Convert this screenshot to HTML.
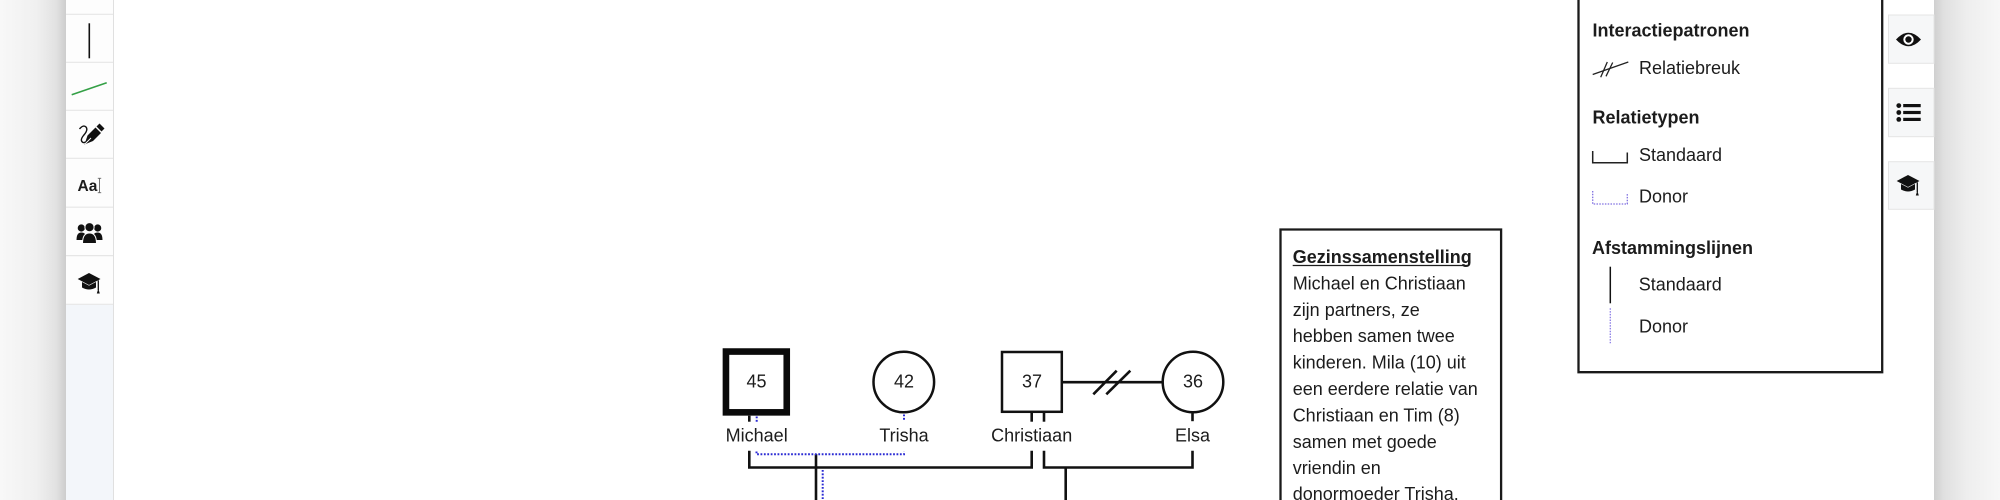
<!DOCTYPE html>
<html>
<head>
<meta charset="utf-8">
<style>
  html, body { margin: 0; padding: 0; width: 2000px; height: 500px; overflow: hidden; background: #ffffff; }
  svg { display: block; overflow: hidden; }
  text { font-family: "Liberation Sans", "DejaVu Sans", sans-serif; fill: #1c1c1c; }
</style>
</head>
<body>
<svg width="2000" height="500" viewBox="0 0 2000 500" xmlns="http://www.w3.org/2000/svg">
  <defs>
    <linearGradient id="shL" x1="0" y1="0" x2="1" y2="0">
      <stop offset="0" stop-color="#f8f8f8"/>
      <stop offset="0.55" stop-color="#f0f0f0"/>
      <stop offset="0.85" stop-color="#e2e2e2"/>
      <stop offset="1" stop-color="#cdcdcd"/>
    </linearGradient>
    <linearGradient id="shR" x1="0" y1="0" x2="1" y2="0">
      <stop offset="0" stop-color="#cfcfcf"/>
      <stop offset="0.15" stop-color="#e0e0e0"/>
      <stop offset="0.5" stop-color="#eeeeee"/>
      <stop offset="1" stop-color="#f7f7f7"/>
    </linearGradient>
  </defs>

  <!-- page background / shadows -->
  <rect x="0" y="0" width="2000" height="500" fill="#ffffff"/>
  <rect x="0" y="0" width="66" height="500" fill="url(#shL)"/>
  <rect x="1934" y="0" width="66" height="500" fill="url(#shR)"/>

  <!-- left toolbar -->
  <rect x="66" y="0" width="47.5" height="500" fill="#fdfdfd"/>
  <rect x="66" y="305" width="47.5" height="195" fill="#f3f6fa"/>
  <line x1="113.5" y1="0" x2="113.5" y2="500" stroke="#e0e0e0" stroke-width="1"/>
  <g stroke="#e6e6e6" stroke-width="1.2">
    <line x1="66" y1="14.3" x2="113" y2="14.3"/>
    <line x1="66" y1="62.3" x2="113" y2="62.3"/>
    <line x1="66" y1="110.3" x2="113" y2="110.3"/>
    <line x1="66" y1="158.3" x2="113" y2="158.3"/>
    <line x1="66" y1="207.2" x2="113" y2="207.2"/>
    <line x1="66" y1="255.6" x2="113" y2="255.6"/>
    <line x1="66" y1="304.3" x2="113" y2="304.3"/>
  </g>
  <!-- vertical line tool -->
  <line x1="89.3" y1="23.3" x2="89.3" y2="58.3" stroke="#111" stroke-width="1.6"/>
  <!-- green line tool -->
  <line x1="71.7" y1="94.7" x2="106.7" y2="82.7" stroke="#34a046" stroke-width="1.6"/>
  <!-- pen icon -->
  <g>
    <path d="M79.5 129 Q83 124.5 86 127 Q88.5 130 83.5 135.5 Q79.5 140.5 83 142.5 Q85 143 87 141" fill="none" stroke="#111" stroke-width="1.4"/>
    <polygon points="84.5,144.5 87.5,135.5 95.5,127.5 101,133 93,141" fill="#111"/>
    <polygon points="96.5,126.5 99.5,123.5 104.5,128.5 101.5,131.5" fill="#111"/>
    <line x1="85" y1="144" x2="91" y2="138" stroke="#fff" stroke-width="0.9"/>
  </g>
  <!-- Aa text tool -->
  <text x="77.5" y="191" font-size="15.5" font-weight="bold" fill="#222">Aa</text>
  <g stroke="#666" stroke-width="0.9" fill="none">
    <line x1="99.5" y1="178.5" x2="99.5" y2="192.5"/>
    <line x1="97.8" y1="178.3" x2="101.2" y2="178.3"/>
    <line x1="97.8" y1="192.7" x2="101.2" y2="192.7"/>
  </g>
  <!-- users icon -->
  <g fill="#111">
    <circle cx="81.3" cy="228" r="3.6"/>
    <circle cx="97.7" cy="228" r="3.6"/>
    <path d="M76.5 240 Q76.5 232.5 81.3 232.5 Q84 232.5 85 234 L85 240 Z"/>
    <path d="M102.5 240 Q102.5 232.5 97.7 232.5 Q95 232.5 94 234 L94 240 Z"/>
    <circle cx="89.5" cy="227.2" r="4.6" stroke="#fdfdfd" stroke-width="1"/>
    <path d="M82.5 243.5 Q82.5 233 89.5 233 Q96.5 233 96.5 243.5 Z" stroke="#fdfdfd" stroke-width="1"/>
  </g>
  <!-- grad cap left -->
  <g fill="#111">
    <polygon points="77.7,279 89,273 100.5,279 89,285"/>
    <path d="M82 282 V287.5 Q89 291.5 96 287.5 V282 L89 285.6 Z"/>
    <line x1="98.3" y1="280.3" x2="98.3" y2="290" stroke="#111" stroke-width="1.3"/>
    <polygon points="96.8,293.5 99.8,293.5 98.3,288.5"/>
  </g>

  <!-- right toolbar buttons -->
  <g fill="#f6f7f8" stroke="#e4e4e4" stroke-width="1">
    <rect x="1888.5" y="15" width="45.5" height="48.3"/>
    <rect x="1888.5" y="88.3" width="45.5" height="48.4"/>
    <rect x="1888.5" y="161.7" width="45.5" height="47.6"/>
  </g>
  <!-- eye -->
  <g>
    <path d="M1896 39.5 Q1908.5 26 1921 39.5 Q1908.5 53 1896 39.5 Z" fill="#111"/>
    <circle cx="1908.5" cy="39.5" r="5.2" fill="#fff"/>
    <circle cx="1908.5" cy="39.5" r="3.2" fill="#111"/>
  </g>
  <!-- list -->
  <g fill="#111">
    <circle cx="1898.8" cy="105.6" r="2.4"/>
    <circle cx="1898.8" cy="112.5" r="2.4"/>
    <circle cx="1898.8" cy="119.4" r="2.4"/>
    <rect x="1903.2" y="104" width="17.5" height="3.2"/>
    <rect x="1903.2" y="110.9" width="17.5" height="3.2"/>
    <rect x="1903.2" y="117.8" width="17.5" height="3.2"/>
  </g>
  <!-- grad cap right -->
  <g fill="#111">
    <polygon points="1896.7,181 1908,175 1919.5,181 1908,187"/>
    <path d="M1901 184 V189.5 Q1908 193.5 1915 189.5 V184 L1908 187.6 Z"/>
    <line x1="1917.3" y1="182.3" x2="1917.3" y2="192" stroke="#111" stroke-width="1.3"/>
    <polygon points="1915.8,195.5 1918.8,195.5 1917.3,190.5"/>
  </g>

  <!-- legend box (top edge cut off) -->
  <path d="M1578.5 0 V372.2 H1882.2 V0" fill="#fff" stroke="#1a1a1a" stroke-width="2.3"/>
  <text x="1592.5" y="36.7" font-size="18" font-weight="bold">Interactiepatronen</text>
  <g stroke="#222" stroke-width="1.3">
    <line x1="1592.7" y1="74.5" x2="1628.3" y2="62"/>
    <line x1="1600.7" y1="77.3" x2="1607.3" y2="62"/>
    <line x1="1606" y1="76.3" x2="1612.7" y2="62.5"/>
  </g>
  <text x="1639" y="74" font-size="18">Relatiebreuk</text>
  <text x="1592.5" y="123.3" font-size="18" font-weight="bold">Relatietypen</text>
  <path d="M1592.7 151 V162.7 H1627.3 V152.5" fill="none" stroke="#222" stroke-width="1.5"/>
  <text x="1639" y="161" font-size="18">Standaard</text>
  <path d="M1592.7 191 V204 H1627.3 V193" fill="none" stroke="#7f6fe0" stroke-width="1.3" stroke-dasharray="1.5 1.3"/>
  <text x="1639" y="202.7" font-size="18">Donor</text>
  <text x="1592" y="254" font-size="18" font-weight="bold">Afstammingslijnen</text>
  <line x1="1610.3" y1="266.7" x2="1610.3" y2="303.3" stroke="#111" stroke-width="1.5"/>
  <text x="1638.7" y="290.7" font-size="18">Standaard</text>
  <line x1="1610.3" y1="308.3" x2="1610.3" y2="343.3" stroke="#8a7ce6" stroke-width="1.3" stroke-dasharray="1.5 1.3"/>
  <text x="1639" y="332.3" font-size="18">Donor</text>

  <!-- text box (bottom edge cut off) -->
  <path d="M1280.5 500 V229.5 H1501.1 V500" fill="#fff" stroke="#1a1a1a" stroke-width="2.3"/>
  <g font-size="18">
    <text x="1292.7" y="263" font-weight="bold">Gezinssamenstelling</text>
    <line x1="1292.7" y1="265.5" x2="1467" y2="265.5" stroke="#1c1c1c" stroke-width="1.3"/>
    <text x="1292.7" y="289.4">Michael en Christiaan</text>
    <text x="1292.7" y="315.8">zijn partners, ze</text>
    <text x="1292.7" y="342.2">hebben samen twee</text>
    <text x="1292.7" y="368.6">kinderen. Mila (10) uit</text>
    <text x="1292.7" y="395">een eerdere relatie van</text>
    <text x="1292.7" y="421.4">Christiaan en Tim (8)</text>
    <text x="1292.7" y="447.8">samen met goede</text>
    <text x="1292.7" y="474.2">vriendin en</text>
    <text x="1292.7" y="500">donormoeder Trisha.</text>
  </g>

  <!-- pedigree: black lines -->
  <g stroke="#111" stroke-width="2.6" fill="none">
    <line x1="749.3" y1="415.7" x2="749.3" y2="421.7"/>
    <line x1="1031.7" y1="413" x2="1031.7" y2="421.7"/>
    <line x1="1044" y1="413" x2="1044" y2="421.7"/>
    <line x1="1192.5" y1="413.3" x2="1192.5" y2="421.2"/>
    <line x1="1063" y1="382.2" x2="1161.7" y2="382.2"/>
    <line x1="1093.3" y1="394.3" x2="1116.7" y2="370.7"/>
    <line x1="1106.3" y1="394.3" x2="1130.3" y2="370.7"/>
    <path d="M749.3 450.7 V467.5 H1031.7 V450.7"/>
    <path d="M1044 450.7 V467.5 H1192.5 V450.7"/>
    <line x1="816" y1="454" x2="816" y2="500"/>
    <line x1="1065.7" y1="467.5" x2="1065.7" y2="500"/>
  </g>
  <!-- pedigree: donor dotted lines -->
  <g stroke="#2b2bd4" stroke-width="2" fill="none" stroke-dasharray="1.8 1.6">
    <line x1="756.7" y1="416.5" x2="756.7" y2="422"/>
    <line x1="904" y1="414.5" x2="904" y2="421"/>
    <path d="M756.5 451.5 V454.3 H904 V451.5"/>
    <line x1="822.7" y1="470" x2="822.7" y2="500"/>
  </g>

  <!-- nodes -->
  <rect x="725.95" y="351.55" width="60.8" height="60.8" fill="#fff" stroke="#0a0a0a" stroke-width="6.6"/>
  <circle cx="903.8" cy="382" r="30.3" fill="#fff" stroke="#111" stroke-width="2.5"/>
  <rect x="1002" y="352" width="59.8" height="59.8" fill="#fff" stroke="#111" stroke-width="2.5"/>
  <circle cx="1193" cy="382" r="30.3" fill="#fff" stroke="#111" stroke-width="2.5"/>

  <g font-size="18" text-anchor="middle">
    <text x="756.5" y="387.5">45</text>
    <text x="904" y="387.5">42</text>
    <text x="1032" y="387.5">37</text>
    <text x="1193" y="387.5">36</text>
    <text x="756.7" y="441.5">Michael</text>
    <text x="904" y="441.5">Trisha</text>
    <text x="1031.7" y="441.5">Christiaan</text>
    <text x="1192.5" y="441.5">Elsa</text>
  </g>
</svg>
</body>
</html>
